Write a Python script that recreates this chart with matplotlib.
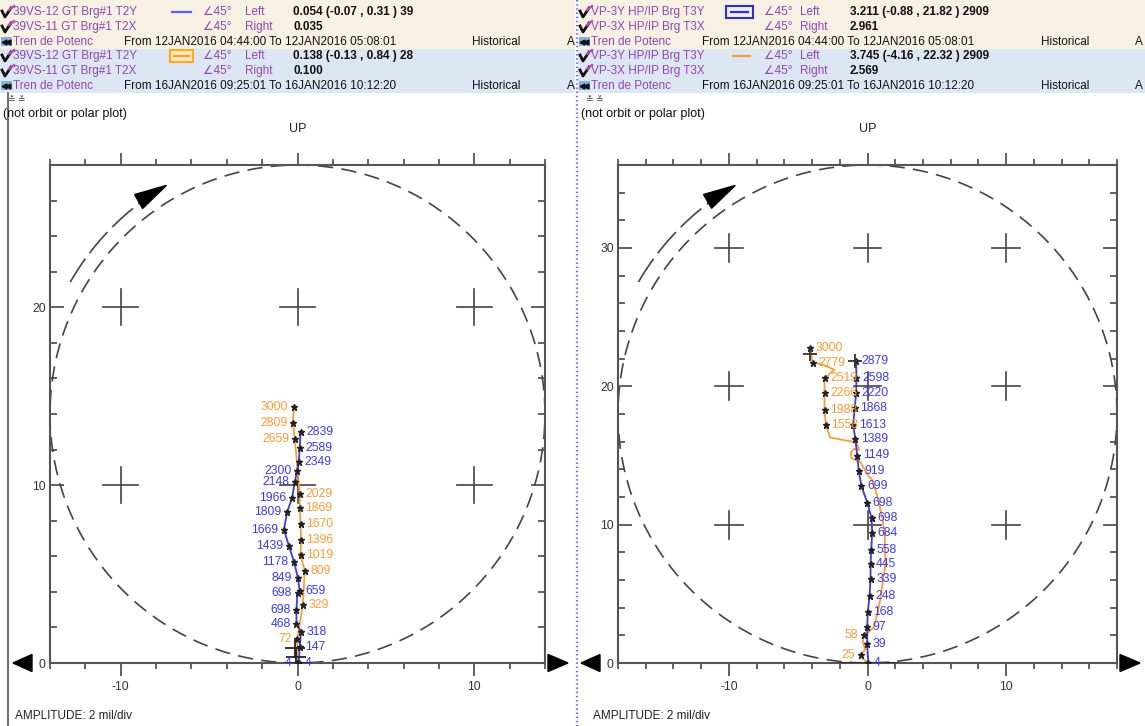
import numpy as np
import matplotlib
matplotlib.use("Agg")
import matplotlib.pyplot as plt
from matplotlib.patches import Polygon, Rectangle
from matplotlib.lines import Line2D

plt.rcParams['font.family'] = ['Liberation Sans', 'DejaVu Sans']
plt.rcParams['lines.scale_dashes'] = False
plt.rcParams['axes.unicode_minus'] = False

W, H = 1145, 726
BLUE = '#3a3af4'
ORANGE = '#ff9a38'
PURPLE = '#9146b4'
FRAME = '#555555'
TXT = '#333333'

# ---- left panel: 39VS GT Brg#1 (12JAN = blue, 16JAN = orange)
lb_x = [-0.05, 0.07, 0.13, 0.20, -0.06, -0.06, 0.00, 0.12, 0.02, -0.20, -0.49, -0.77, -0.58, -0.30, -0.15, -0.02, 0.07, 0.13, 0.17]
lb_y = [0.0, 0.0, 0.92, 1.76, 2.19, 3.00, 3.95, 4.06, 4.80, 5.70, 6.60, 7.50, 8.50, 9.30, 10.20, 10.80, 11.30, 12.10, 13.00]
lb_rpm = [4, 4, 147, 318, 468, 698, 698, 659, 849, 1178, 1439, 1669, 1809, 1966, 2148, 2300, 2349, 2589, 2839]
lb_side = ['l', 'r', 'r', 'r', 'l', 'l', 'l', 'r', 'l', 'l', 'l', 'l', 'l', 'l', 'l', 'l', 'r', 'r', 'r']

lo_x = [0.00, -0.02, 0.30, 0.41, 0.17, 0.20, 0.17, 0.13, 0.13, -0.15, -0.26, -0.20]
lo_y = [0.00, 1.33, 3.26, 5.20, 6.07, 6.90, 7.80, 8.70, 9.50, 12.60, 13.50, 14.40]
lo_rpm = [None, 72, 329, 809, 1019, 1396, 1670, 1869, 2029, 2659, 2809, 3000]
lo_side = [None, 'l', 'r', 'r', 'r', 'r', 'r', 'r', 'r', 'l', 'l', 'l']

# ---- right panel: VP-3 HP/IP Brg T3
rb_x = [0.05, -0.02, -0.02, 0.02, 0.15, 0.22, 0.22, 0.27, 0.34, 0.29, -0.02, -0.44, -0.63, -0.75, -0.87, -1.04, -0.92, -0.82, -0.80, -0.82]
rb_y = [0.0, 1.38, 2.60, 3.70, 4.86, 6.07, 7.15, 8.20, 9.40, 10.50, 11.60, 12.80, 13.90, 15.00, 16.20, 17.20, 18.40, 19.50, 20.60, 21.80]
rb_rpm = [4, 39, 97, 168, 248, 339, 445, 558, 684, 698, 698, 699, 919, 1149, 1389, 1613, 1868, 2220, 2598, 2879]

ro_trace_x = [0.0, -0.3, -0.5, -0.15, -0.35, -0.25, 0.15, 0.45, 0.73, 0.95, 1.30, 1.24, 1.09, 0.73, 0.30, 0.07,
              -0.50, -1.15, -1.20, -0.95, -0.60, -0.73, -1.10, -2.70, -3.00, -3.10, -3.10, -3.10, -2.40, -3.30, -3.95, -4.15]
ro_trace_y = [0.0, 0.30, 0.58, 1.00, 1.50, 2.00, 2.30, 2.60, 3.60, 4.80, 7.20, 9.30, 10.40, 12.00, 13.30, 13.50,
              14.50, 14.80, 15.20, 15.50, 15.40, 15.80, 16.00, 16.30, 17.20, 18.30, 19.50, 20.60, 21.20, 21.60, 21.70, 22.80]
ro_x = [-0.50, -0.25, -3.00, -3.10, -3.10, -3.10, -3.95, -4.15]
ro_y = [0.58, 2.00, 17.20, 18.30, 19.50, 20.60, 21.70, 22.80]
ro_rpm = [25, 58, 1558, 1988, 2266, 2519, 2779, 3000]
ro_side = ['l', 'l', 'r', 'r', 'r', 'r', 'r', 'r']

# cursor readouts (amplitude, x, y, rpm) shown in the header and as crosses
left_amp = [0.054, 0.138]
left_amp2 = [0.035, 0.100]
left_cur_x = [-0.07, -0.13]
left_cur_y = [0.31, 0.84]
left_cur_rpm = [39, 28]
right_amp = [3.211, 3.745]
right_amp2 = [2.961, 2.569]
right_cur_x = [-0.88, -4.16]
right_cur_y = [21.82, 22.32]
right_cur_rpm = [2909, 2909]

left_names = ["39VS-12 GT Brg#1 T2Y", "39VS-11 GT Brg#1 T2X"]
right_names = ["VP-3Y HP/IP Brg T3Y", "VP-3X HP/IP Brg T3X"]
periods = ["From 12JAN2016 04:44:00 To 12JAN2016 05:08:01",
           "From 16JAN2016 09:25:01 To 16JAN2016 10:12:20"]

fig = plt.figure(figsize=(W / 100, H / 100), dpi=100)


def fx(px):
    return px / W


def fy(py):
    return 1 - py / H


def ftext(px, py, s, **kw):
    kw.setdefault('fontsize', 8.5)
    kw.setdefault('va', 'center')
    kw.setdefault('ha', 'left')
    fig.text(fx(px), fy(py), s, **kw)


def fline(xs, ys, **kw):
    fig.add_artist(Line2D([fx(v) for v in xs], [fy(v) for v in ys], **kw))


def frect(x0, y0, x1, y1, **kw):
    fig.add_artist(Rectangle((fx(x0), fy(y1)), (x1 - x0) / W, (y1 - y0) / H,
                             transform=fig.transFigure, **kw))


def pen_icon(x0, y):
    fline([x0 + 1, x0 + 4, x0 + 10], [y - 1, y + 5, y - 4], color='#111', lw=2.0)
    fline([x0 + 8, x0 + 13], [y - 2, y - 6], color='#d040c0', lw=1.6)


def trend_icon(x0, y):
    frect(x0 + 1, y - 5, x0 + 12, y + 4, color='#86aede', lw=0)
    fig.add_artist(Line2D([fx(x0 + 4), fx(x0 + 8)], [fy(y), fy(y)], ls='none', marker='<',
                          ms=3.5, color='#111', transform=fig.transFigure))


def header(x0, x1, names, cols, amp, amp2, cx, cy, crpm, legend):
    # cols: name, angle, side, value, period, historical, A
    frect(x0, 0, x1, 49, color='#f6f1e3', lw=0, zorder=0)
    frect(x0, 49, x1, 93, color='#dce7f3', lw=0, zorder=0)
    for g in range(2):
        base = g * 44
        rows = [12 + base, 27 + base, 42 + base]
        for i in range(2):
            pen_icon(x0 + 1, rows[i])
            ftext(x0 + cols[0], rows[i], names[i], color=PURPLE)
            ftext(x0 + cols[1], rows[i], "\u222045°", color=PURPLE)
            ftext(x0 + cols[2], rows[i], ["Left", "Right"][i], color=PURPLE)
        ftext(x0 + cols[3], rows[0], f"{amp[g]:.3f} ({cx[g]:.2f} , {cy[g]:.2f} ) {crpm[g]}",
              fontweight='bold', color='#111')
        ftext(x0 + cols[3], rows[1], f"{amp2[g]:.3f}", fontweight='bold', color='#111')
        trend_icon(x0, rows[2])
        ftext(x0 + cols[0], rows[2], "Tren de Potenc", color=PURPLE)
        ftext(x0 + cols[4], rows[2], periods[g], color='#111')
        ftext(x0 + cols[5], rows[2], "Historical", color='#111')
        ftext(x0 + cols[6], rows[2], "A", color='#111')
        legend(g, rows[0])
    ftext(x0 + 8, 100, "\u225b \u225a", fontsize=6.5, color='#444')
    ftext(x0 + 3, 114, "(not orbit or polar plot)", fontsize=9, color='#111')
    ftext(x0 + 15, 716, "AMPLITUDE: 2 mil/div", color='#222')


def left_legend(g, y):
    if g == 0:
        fline([172, 191], [y, y], color='#5a5aff', lw=1.6)
    else:
        frect(170, y - 6, 193, y + 6, facecolor='#ffe9b8', edgecolor='#ffaa22', lw=1.5)
        fline([174, 189], [y, y], color=ORANGE, lw=1.6)


def right_legend(g, y):
    if g == 0:
        frect(726, y - 6, 753, y + 6, facecolor='#eeeeff', edgecolor='#3030c0', lw=1.5)
        fline([731, 748], [y, y], color='#3030e0', lw=1.6)
    else:
        fline([733, 750], [y, y], color=ORANGE, lw=1.6)


header(0, 575, left_names, [13, 203, 245, 293, 124, 472, 567],
       left_amp, left_amp2, left_cur_x, left_cur_y, left_cur_rpm, left_legend)
header(578, W, right_names, [13, 186, 222, 272, 124, 463, 557],
       right_amp, right_amp2, right_cur_x, right_cur_y, right_cur_rpm, right_legend)

# panel separators
fline([8, 8], [93, H], color='#555', lw=1.2)
fline([577, 577], [0, H], color='#6a6aff', lw=1.6, ls=(0, (1, 2)))


def polar_frame(ax, R, yticks):
    ax.set_xlim(-R, R)
    ax.set_ylim(0, 2 * R)
    for s in ax.spines.values():
        s.set_color(FRAME)
        s.set_linewidth(1.5)
    ax.set_xticks([-10, 0, 10])
    ax.set_xticks([v for v in range(-R, R + 1, 2) if v % 10], minor=True)
    ax.set_yticks(yticks)
    ax.set_yticks([v for v in range(0, 2 * R + 1, 2) if v % 10], minor=True)
    ax.tick_params(axis='x', which='both', direction='out', top=True, bottom=True,
                   color=FRAME, width=1.3, labelcolor=TXT, labelsize=8.8, pad=4)
    ax.tick_params(axis='x', which='major', length=9)
    ax.tick_params(axis='x', which='minor', length=4.3)
    ax.tick_params(axis='y', which='both', direction='in', left=True, right=True,
                   color=FRAME, width=1.3, labelcolor=TXT, labelsize=8.8, pad=3)
    ax.tick_params(axis='y', which='major', length=10)
    ax.tick_params(axis='y', which='minor', length=5)

    k = (2 * R) / (ax.get_position().width * W)   # data units per pixel
    # amplitude circle
    t = np.linspace(0, 2 * np.pi, 400)
    ax.plot(R * np.cos(t), R + R * np.sin(t), color='#444', lw=1.2, ls=(0, (11, 6)))
    # grid crosses every 10 mil
    for gx in (-10, 0, 10):
        for gy in range(10, 2 * R, 10):
            ax.plot([gx - 1, gx + 1], [gy, gy], color='#444', lw=1.2)
            ax.plot([gx, gx], [gy - 1, gy + 1], color='#444', lw=1.2)
    # rotation direction arrow
    ra = 1.06 * R
    a = np.radians(np.linspace(150, 127, 60))
    ax.plot(ra * np.cos(a), R + ra * np.sin(a), color='#444', lw=1.2, ls=(0, (20, 5)))
    th = np.radians(120)
    tip = np.array([ra * np.cos(th), R + ra * np.sin(th)])
    tang = np.array([np.sin(th), -np.cos(th)])
    norm = np.array([np.cos(th), np.sin(th)])
    bc = tip - tang * 32 * k
    ax.add_patch(Polygon([tip, bc + norm * 8 * k, bc - norm * 8 * k], closed=True,
                         color='black', clip_on=False, zorder=5))
    # arrowheads at both ends of the horizontal axis
    hh = 8.5 * k
    ax.add_patch(Polygon([(-R - 37 * k, 0), (-R - 18 * k, hh), (-R - 18 * k, -hh)],
                         closed=True, color='black', clip_on=False))
    ax.add_patch(Polygon([(R + 23 * k, 0), (R + 3 * k, hh), (R + 3 * k, -hh)],
                         closed=True, color='black', clip_on=False))
    ax.text(0.5, 1.072, "UP", transform=ax.transAxes, ha='center', va='center',
            fontsize=9, color='#222')


def label_points(ax, xs, ys, rpms, sides, color):
    for x, y, r, s in zip(xs, ys, rpms, sides):
        if r is None:
            continue
        off = 4 if s == 'r' else -4
        ax.annotate(str(r), (x, y), xytext=(off, 0), textcoords='offset points',
                    ha='left' if s == 'r' else 'right', va='center',
                    color=color, fontsize=8.7, zorder=6)


# ---- left plot
axL = fig.add_axes([fx(50), fy(663), (545 - 50) / W, (663 - 165) / H])
polar_frame(axL, 14, [0, 10, 20])
axL.plot(lo_x, lo_y, color=ORANGE, lw=1.3, zorder=3)
axL.plot(lb_x, lb_y, color=BLUE, lw=1.3, zorder=3)
axL.plot(lo_x, lo_y, ls='none', marker='*', ms=5, color='#222', zorder=4)
axL.plot(lb_x, lb_y, ls='none', marker='*', ms=5, color='#222', zorder=4)
label_points(axL, lb_x, lb_y, lb_rpm, lb_side, BLUE)
label_points(axL, lo_x, lo_y, lo_rpm, lo_side, ORANGE)
axL.plot([-0.7, 0.7], [0, 0], color='#222', lw=1.8, zorder=4)
axL.plot(left_cur_x, left_cur_y, ls='none', marker='+', ms=14, mew=1.3, color='#222', zorder=5)

# ---- right plot
axR = fig.add_axes([fx(618), fy(663), (1117 - 618) / W, (663 - 165) / H])
polar_frame(axR, 18, [0, 10, 20, 30])
axR.plot(ro_trace_x, ro_trace_y, color=ORANGE, lw=1.3, zorder=3)
axR.plot(rb_x, rb_y, color=BLUE, lw=1.3, zorder=3)
axR.plot(ro_x, ro_y, ls='none', marker='*', ms=5, color='#222', zorder=4)
axR.plot(rb_x, rb_y, ls='none', marker='*', ms=5, color='#222', zorder=4)
label_points(axR, rb_x, rb_y, rb_rpm, ['r'] * len(rb_rpm), BLUE)
label_points(axR, ro_x, ro_y, ro_rpm, ro_side, ORANGE)
axR.plot([-2.0, 2.0], [0, 0], color='#222', lw=1.8, zorder=4)
axR.plot(right_cur_x, right_cur_y, ls='none', marker='+', ms=10, mew=1.3, color='#333', zorder=5)

fig.savefig("out.png", dpi=100)
